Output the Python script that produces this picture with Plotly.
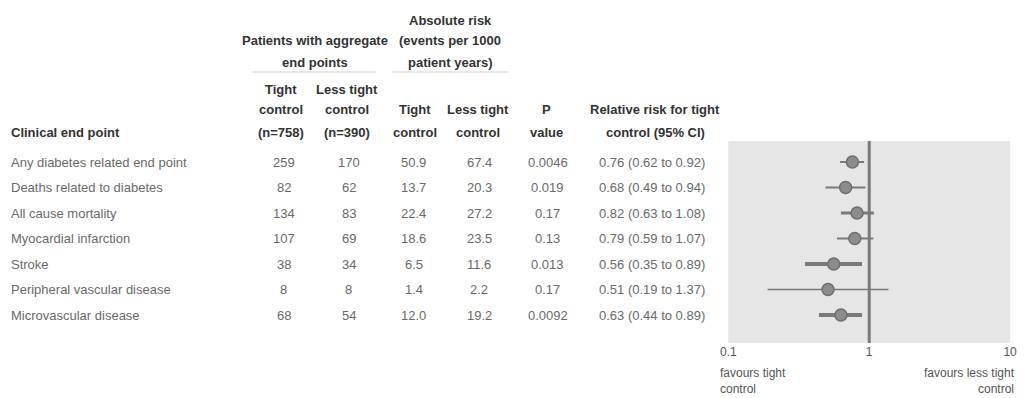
import plotly.graph_objects as go

# Table data: UKPDS-style tight vs less tight control outcomes
endpoints = [
    "Any diabetes related end point",
    "Deaths related to diabetes",
    "All cause mortality",
    "Myocardial infarction",
    "Stroke",
    "Peripheral vascular disease",
    "Microvascular disease",
]
events_tight = ["259", "82", "134", "107", "38", "8", "68"]
events_less = ["170", "62", "83", "69", "34", "8", "54"]
risk_tight = ["50.9", "13.7", "22.4", "18.6", "6.5", "1.4", "12.0"]
risk_less = ["67.4", "20.3", "27.2", "23.5", "11.6", "2.2", "19.2"]
p_values = ["0.0046", "0.019", "0.17", "0.13", "0.013", "0.17", "0.0092"]
rr = [0.76, 0.68, 0.82, 0.79, 0.56, 0.51, 0.63]
rr_lo = [0.62, 0.49, 0.63, 0.59, 0.35, 0.19, 0.44]
rr_hi = [0.92, 0.94, 1.08, 1.07, 0.89, 1.37, 0.89]
ci_width = [2, 2, 3, 2, 4, 1.5, 4]

W, H = 1025, 398


def px(x):
    return x / W


def py(y):
    return 1 - y / H


fig = go.Figure()

# Confidence interval bars
for i in range(len(endpoints)):
    fig.add_trace(go.Scatter(
        x=[rr_lo[i], rr_hi[i]], y=[i, i], mode="lines",
        line=dict(color="#7a7a7a", width=ci_width[i]),
        hoverinfo="skip", showlegend=False,
    ))

# Point estimates
fig.add_trace(go.Scatter(
    x=rr, y=list(range(len(endpoints))), mode="markers",
    marker=dict(size=12, color="#8c8c8c", line=dict(color="#6e6e6e", width=1.5)),
    showlegend=False, hoverinfo="skip",
))

# Line of no effect
fig.add_shape(type="line", xref="x", yref="paper", x0=1, x1=1,
              y0=py(343), y1=py(141), line=dict(color="#7a7a7a", width=3))

FAM = "Liberation Sans, Arial"
body_font = dict(family=FAM, size=13, color="#6a6a6a")
head_font = dict(family=FAM, size=13, color="#333333")

anns = []

# Table rows
cols = [
    (1, endpoints, "left"),
    (280, events_tight, "center"),
    (346, events_less, "center"),
    (412, risk_tight, "center"),
    (478, risk_less, "center"),
    (548, p_values, "center"),
]
for xpix, values, align in cols:
    for i, v in enumerate(values):
        anns.append(dict(x=px(xpix), y=i, xref="paper", yref="y", text=v,
                         showarrow=False, xanchor=align, yanchor="middle",
                         font=body_font))
for i in range(len(endpoints)):
    txt = f"{rr[i]:.2f} ({rr_lo[i]:.2f} to {rr_hi[i]:.2f})"
    anns.append(dict(x=px(654), y=i, xref="paper", yref="y", text=txt,
                     showarrow=False, xanchor="center", yanchor="middle",
                     font=body_font))

# Header lines
headers = [
    (1, 132, "Clinical end point", "left"),
    (312, 40, "Patients with aggregate", "center"),
    (312, 62, "end points", "center"),
    (449, 20, "Absolute risk", "center"),
    (449, 40, "(events per 1000", "center"),
    (449, 62, "patient years)", "center"),
    (277, 90, "Tight", "center"),
    (277, 110, "control", "center"),
    (277, 132, "(n=758)", "center"),
    (344, 90, "Less tight", "center"),
    (344, 110, "control", "center"),
    (344, 132, "(n=390)", "center"),
    (413, 110, "Tight", "center"),
    (413, 132, "control", "center"),
    (477, 110, "Less tight", "center"),
    (477, 132, "control", "center"),
    (547, 110, "P", "center"),
    (547, 132, "value", "center"),
    (657, 110, "Relative risk for tight", "center"),
    (657, 132, "control (95% CI)", "center"),
]
for xpix, ypix, txt, align in headers:
    anns.append(dict(x=px(xpix), y=py(ypix), xref="paper", yref="paper",
                     text=f"<b>{txt}</b>", showarrow=False, xanchor=align,
                     yanchor="middle", font=head_font))

# Axis direction captions
cap_font = dict(family=FAM, size=12, color="#555555")
anns.append(dict(x=px(721), y=py(364), xref="paper", yref="paper",
                 text="favours tight<br>control", showarrow=False,
                 xanchor="left", yanchor="top", align="left", font=cap_font))
anns.append(dict(x=px(1024), y=py(364), xref="paper", yref="paper",
                 text="favours less tight<br>control", showarrow=False,
                 xanchor="right", yanchor="top", align="right", font=cap_font))

# Group underlines
for x0, x1 in [(248, 373), (390, 508)]:
    fig.add_shape(type="line", xref="paper", yref="paper",
                  x0=px(x0), x1=px(x1), y0=py(72), y1=py(72),
                  line=dict(color="#d0d0d0", width=1))

fig.update_layout(
    width=W, height=H,
    margin=dict(l=0, r=0, t=0, b=0),
    paper_bgcolor="white",
    plot_bgcolor="#e6e6e6",
    annotations=anns,
    xaxis=dict(type="log", range=[-1, 1], domain=[px(731), px(1017)],
               tickvals=[0.1, 1, 10], ticktext=["0.1", "1", "10"],
               showgrid=False, zeroline=False, showline=False, ticks="",
               tickfont=dict(family=FAM, size=12, color="#555555")),
    yaxis=dict(range=[7.098, -0.824], domain=[py(343), py(141)],
               showgrid=False, zeroline=False, showticklabels=False, ticks=""),
)

fig.write_html("out.html")
